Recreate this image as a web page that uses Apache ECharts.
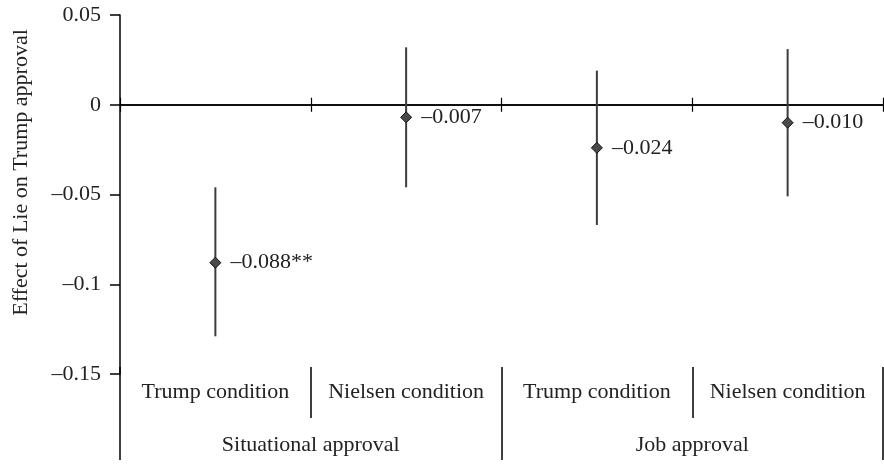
<!DOCTYPE html>
<html>
<head>
<meta charset="utf-8">
<script src="https://cdn.jsdelivr.net/npm/echarts@6/dist/echarts.min.js"></script>
<style>
html, body { margin: 0; padding: 0; background: #fff; }
#chart { width: 884px; height: 464px; }
</style>
</head>
<body>
<div id="chart"></div>
<script>
var conditions = ['Trump condition', 'Nielsen condition', 'Trump condition', 'Nielsen condition'];
var groups = ['Situational approval', 'Job approval'];
var estimates = [-0.088, -0.007, -0.024, -0.010];
var ciLow = [-0.129, -0.046, -0.067, -0.051];
var ciHigh = [-0.046, 0.032, 0.019, 0.031];
var estLabels = ['\u20130.088**', '\u20130.007', '\u20130.024', '\u20130.010'];
var yTicks = { min: -0.15, max: 0.05, step: 0.05 };

var font = 'Liberation Serif';
var ink = '#222';
var fs = 22;

var barData = estimates.map(function (v, i) { return [i, ciLow[i], ciHigh[i]]; });
var pointData = estimates.map(function (v, i) { return [i, v]; });

var myChart = echarts.init(document.getElementById('chart'));
option = {
    animation: false,
    grid: { left: 120, right: 1, top: 15, bottom: 90 },
    xAxis: [
        {
            // axis on zero, ticks pointing down
            type: 'category', data: conditions, position: 'bottom',
            axisLine: { onZero: true, onZeroAxisIndex: 0, lineStyle: { color: '#000', width: 1.5 } },
            axisTick: { show: true, interval: 0, length: 7, lineStyle: { color: '#000', width: 1.2 } },
            axisLabel: { show: false }
        },
        {
            // same axis, ticks pointing up
            type: 'category', data: conditions, position: 'top',
            axisLine: { onZero: true, onZeroAxisIndex: 1, lineStyle: { color: '#000', width: 1.5 } },
            axisTick: { show: true, interval: 0, length: 7, lineStyle: { color: '#000', width: 1.2 } },
            axisLabel: { show: false }
        },
        {
            type: 'category', data: conditions, position: 'bottom', offset: -7,
            axisLine: { show: true, onZero: false, lineStyle: { opacity: 0 } },
            axisTick: { show: true, interval: 0, length: 51, lineStyle: { color: '#000', width: 1.5, opacity: 1 } },
            axisLabel: { interval: 0, margin: 14, fontFamily: font, fontSize: fs, color: ink }
        },
        {
            type: 'category', data: groups, position: 'bottom', offset: -7,
            axisLine: { show: true, onZero: false, lineStyle: { opacity: 0 } },
            axisTick: { show: true, interval: 0, length: 93, lineStyle: { color: '#000', width: 1.5, opacity: 1 } },
            axisLabel: { interval: 0, margin: 67, fontFamily: font, fontSize: fs, color: ink }
        }
    ],
    yAxis: [
        {
            type: 'value', min: yTicks.min, max: yTicks.max, interval: yTicks.step,
            name: 'Effect of Lie on Trump approval',
            nameLocation: 'middle', nameGap: 88, nameRotate: 90,
            nameTextStyle: { fontFamily: font, fontSize: fs, color: ink, padding: [0, 0, 0, 44] },
            splitLine: { show: false },
            axisLine: { show: true, lineStyle: { color: '#000', width: 1.5 } },
            axisTick: { show: true, length: 10, lineStyle: { color: '#000', width: 1.5 } },
            axisLabel: {
                margin: 19, fontFamily: font, fontSize: fs, color: ink,
                formatter: function (v) { return String(+v.toFixed(2)).replace('-', '\u2013'); }
            }
        },
        {
            // hidden twin, only so the second x axis can sit on zero too
            type: 'value', min: yTicks.min, max: yTicks.max, interval: yTicks.step,
            show: false
        }
    ],
    series: [
        {
            type: 'custom',
            data: barData,
            renderItem: function (params, api) {
                var p1 = api.coord([api.value(0), api.value(1)]);
                var p2 = api.coord([api.value(0), api.value(2)]);
                return {
                    type: 'line',
                    shape: { x1: p1[0], y1: p1[1], x2: p2[0], y2: p2[1] },
                    style: { stroke: '#3c3c3c', lineWidth: 2 }
                };
            },
            z: 2
        },
        {
            type: 'scatter',
            data: pointData,
            symbol: 'diamond',
            symbolSize: 11,
            itemStyle: { color: '#4a4a4a', borderColor: '#111', borderWidth: 1, opacity: 1 },
            label: {
                show: true, position: 'right', distance: 9,
                fontFamily: font, fontSize: fs, color: ink,
                formatter: function (p) { return estLabels[p.dataIndex]; }
            },
            z: 3
        }
    ]
};
myChart.setOption(option);
</script>
</body>
</html>
